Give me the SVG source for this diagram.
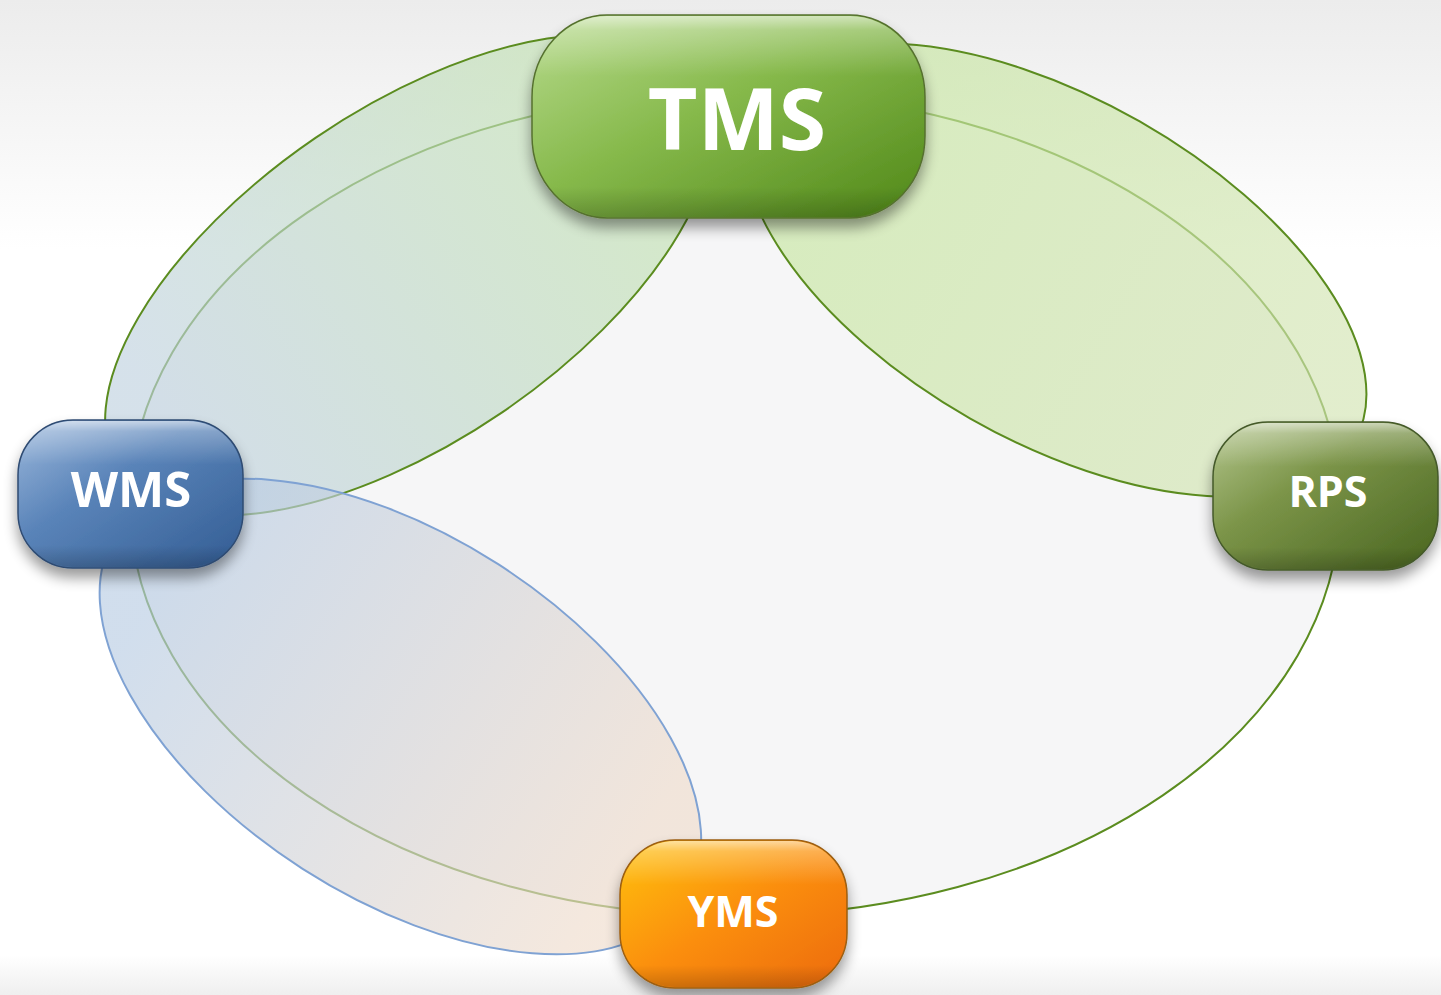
<svg xmlns="http://www.w3.org/2000/svg" width="1441" height="995" viewBox="0 0 1441 995">
  <style>
    .ring { stroke-width: 2; }
    .green-line { stroke: #5b8c1f; }
    .blue-line { stroke: #7fa2d3; }
    .tint { fill-opacity: 0.65; }
    .label { fill: #ffffff; font-family: "Open Sans", "Liberation Sans", sans-serif; font-weight: 700; text-anchor: middle; }
    .sheen { fill: url(#sheen); }
  </style>
  <defs>
    <linearGradient id="bg" x1="0" y1="0" x2="0" y2="1">
      <stop offset="0" stop-color="#ececec"/>
      <stop offset="0.25" stop-color="#ffffff"/>
      <stop offset="0.96" stop-color="#ffffff"/>
      <stop offset="1" stop-color="#efefef"/>
    </linearGradient>
    <!-- ring fills run along each ring's long axis -->
    <linearGradient id="fillA" x1="0.1" y1="0.5" x2="0.9" y2="0.5">
      <stop offset="0" stop-color="#bfd1df"/>
      <stop offset="1" stop-color="#c2e2af"/>
    </linearGradient>
    <linearGradient id="fillB" x1="0.1" y1="0.5" x2="0.9" y2="0.5">
      <stop offset="0" stop-color="#c6e6a0"/>
      <stop offset="1" stop-color="#d2e4b2"/>
    </linearGradient>
    <linearGradient id="fillC" x1="0.1" y1="0.5" x2="0.9" y2="0.5">
      <stop offset="0" stop-color="#b8cce3"/>
      <stop offset="1" stop-color="#efdccc"/>
    </linearGradient>
    <linearGradient id="gTMS" x1="0" y1="0" x2="1" y2="1">
      <stop offset="0" stop-color="#b8db8e"/>
      <stop offset="0.45" stop-color="#86b94b"/>
      <stop offset="1" stop-color="#4f8717"/>
    </linearGradient>
    <linearGradient id="gWMS" x1="0" y1="0" x2="1" y2="1">
      <stop offset="0" stop-color="#9db9dc"/>
      <stop offset="0.4" stop-color="#5a84b9"/>
      <stop offset="1" stop-color="#325c93"/>
    </linearGradient>
    <linearGradient id="gRPS" x1="0" y1="0" x2="1" y2="1">
      <stop offset="0" stop-color="#b5c78f"/>
      <stop offset="0.4" stop-color="#7b9448"/>
      <stop offset="1" stop-color="#48641f"/>
    </linearGradient>
    <linearGradient id="gYMS" x1="0" y1="0" x2="1" y2="1">
      <stop offset="0" stop-color="#ffc20a"/>
      <stop offset="0.5" stop-color="#fb8e07"/>
      <stop offset="1" stop-color="#ec6a0b"/>
    </linearGradient>
    <linearGradient id="sheen" x1="0" y1="0" x2="0" y2="1">
      <stop offset="0" stop-color="#ffffff" stop-opacity="0.6"/>
      <stop offset="0.07" stop-color="#ffffff" stop-opacity="0.28"/>
      <stop offset="0.3" stop-color="#ffffff" stop-opacity="0"/>
      <stop offset="0.85" stop-color="#000000" stop-opacity="0"/>
      <stop offset="1" stop-color="#000000" stop-opacity="0.18"/>
    </linearGradient>
    <filter id="shadow" x="-20%" y="-20%" width="140%" height="160%">
      <feGaussianBlur in="SourceAlpha" stdDeviation="7"/>
      <feOffset dy="9" result="blur"/>
      <feComponentTransfer>
        <feFuncA type="linear" slope="0.4"/>
      </feComponentTransfer>
      <feMerge>
        <feMergeNode/>
        <feMergeNode in="SourceGraphic"/>
      </feMerge>
    </filter>
  </defs>

  <rect x="0" y="0" width="1441" height="995" fill="url(#bg)"/>

  <!-- relationship rings between the systems -->
  <g id="connectors">
    <ellipse id="ring-all" class="ring green-line" cx="735" cy="504" rx="605" ry="412" fill="#f6f6f7"/>
    <ellipse id="ring-tms-wms" class="ring green-line tint" cx="409" cy="275" rx="350" ry="166" transform="rotate(-34.3 409 275)" fill="url(#fillA)"/>
    <ellipse id="ring-tms-rps" class="ring green-line tint" cx="1055" cy="270" rx="345" ry="171" transform="rotate(29.7 1055 270)" fill="url(#fillB)"/>
    <ellipse id="ring-wms-yms" class="ring blue-line tint" cx="400.4" cy="716.5" rx="338" ry="181" transform="rotate(32.7 400.4 716.5)" fill="url(#fillC)"/>
  </g>

  <g id="node-tms">
    <rect x="532" y="15" width="393" height="203" rx="75" ry="82" fill="url(#gTMS)" stroke="#55702f" stroke-width="1.5" filter="url(#shadow)"/>
    <rect class="sheen" x="533" y="16" width="391" height="201" rx="74" ry="81"/>
    <text class="label" x="737" y="150" font-size="86">TMS</text>
  </g>

  <g id="node-wms">
    <rect x="18" y="420" width="225" height="148" rx="55" ry="55" fill="url(#gWMS)" stroke="#2f4b72" stroke-width="1.5" filter="url(#shadow)"/>
    <rect class="sheen" x="19" y="421" width="223" height="146" rx="54" ry="54"/>
    <text class="label" x="131" y="507" font-size="49">WMS</text>
  </g>

  <g id="node-rps">
    <rect x="1213" y="422" width="225" height="148" rx="55" ry="55" fill="url(#gRPS)" stroke="#44592a" stroke-width="1.5" filter="url(#shadow)"/>
    <rect class="sheen" x="1214" y="423" width="223" height="146" rx="54" ry="54"/>
    <text class="label" x="1328" y="507" font-size="43">RPS</text>
  </g>

  <g id="node-yms">
    <rect x="620" y="840" width="227" height="148" rx="55" ry="55" fill="url(#gYMS)" stroke="#9c5e12" stroke-width="1.5" filter="url(#shadow)"/>
    <rect class="sheen" x="621" y="841" width="225" height="146" rx="54" ry="54"/>
    <text class="label" x="733" y="927" font-size="43">YMS</text>
  </g>
</svg>
